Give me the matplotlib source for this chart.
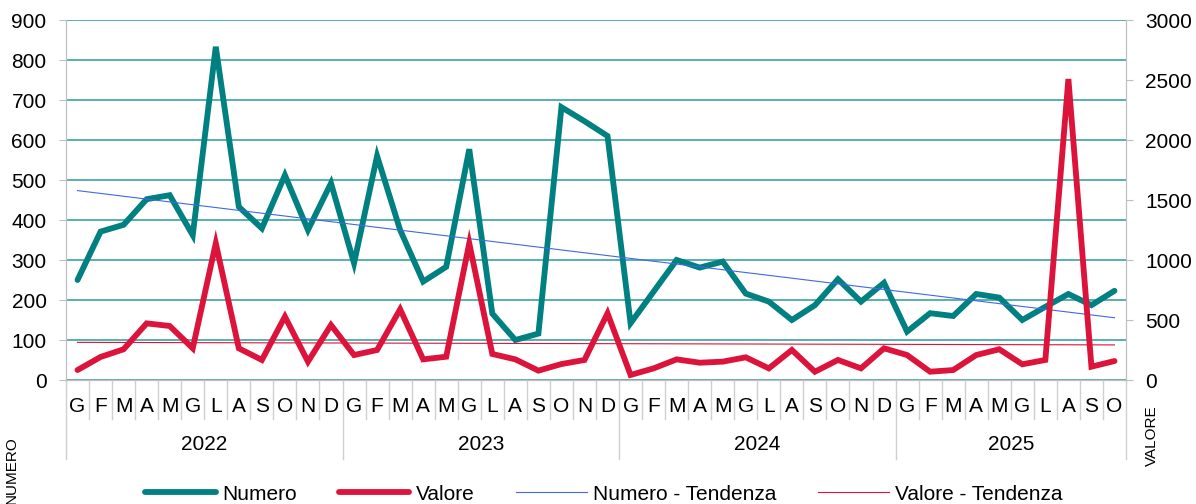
import matplotlib
matplotlib.use("Agg")
import matplotlib.pyplot as plt
import matplotlib.transforms as mtransforms
import numpy as np

plt.rcParams['font.family'] = ['Liberation Sans', 'DejaVu Sans']

# dati mensili 2022 - ott 2025
mesi = ['G', 'F', 'M', 'A', 'M', 'G', 'L', 'A', 'S', 'O', 'N', 'D']
anni = ['2022', '2023', '2024', '2025']
mesi_per_anno = [12, 12, 12, 10]

numero = [250, 371, 388, 452, 462, 362, 833, 433, 379, 512, 375, 492,
          292, 560, 375, 246, 283, 577, 166, 100, 116, 682, 647, 610,
          142, 221, 300, 281, 296, 216, 196, 150, 187, 252, 196, 243,
          121, 167, 160, 215, 206, 150, 183, 215, 187, 223]

valore = [83, 192, 256, 472, 450, 264, 1139, 264, 167, 528, 153, 458,
          208, 250, 589, 172, 194, 1139, 217, 172, 78, 133, 167, 556,
          42, 97, 172, 144, 153, 189, 97, 250, 69, 167, 97, 264,
          208, 69, 83, 208, 256, 131, 167, 2508, 111, 158]

etichette = []
for n in mesi_per_anno:
    etichette += mesi[:n]

x = np.arange(len(numero))

# linee di tendenza (regressione lineare)
p_num = np.polyfit(x, numero, 1)
p_val = np.polyfit(x, valore, 1)

teal = '#008080'
rosso = '#DC143C'
blu = '#4169E1'
grigio = '#BFBFBF'

fig = plt.figure(figsize=(11.96, 5.04), dpi=100)
L, B, W, H = 66/1196, 124/504, 1060/1196, 360/504
ax = fig.add_axes([L, B, W, H])
ax2 = ax.twinx()

ax.set_xlim(-0.5, len(x) - 0.5)
ax.set_ylim(0, 900)
ax2.set_ylim(0, 3000)
ax.set_yticks(range(0, 901, 100))
ax2.set_yticks(range(0, 3001, 500))

ax.set_axisbelow(True)
ax.grid(axis='y', color='#2E9A96', linewidth=1.1)

l1, = ax.plot(x, numero, color=teal, lw=4.2, solid_joinstyle='miter',
              solid_capstyle='round', zorder=3)
l3, = ax.plot(x, np.polyval(p_num, x), color=blu, lw=0.8, zorder=4)
l2, = ax2.plot(x, valore, color=rosso, lw=4.2, solid_joinstyle='miter',
               solid_capstyle='round', zorder=3)
l4, = ax2.plot(x, np.polyval(p_val, x), color=rosso, lw=0.8, zorder=4)

for a in (ax, ax2):
    for s in a.spines.values():
        s.set_color(grigio)
    a.spines['top'].set_visible(False)

ax.tick_params(axis='y', labelsize=15, length=5, color=grigio, pad=9)
ax2.tick_params(axis='y', labelsize=15, length=5, color=grigio, pad=9)
ax.set_xticks([])

# asse delle categorie: mesi e anni
tr = mtransforms.blended_transform_factory(ax.transData, ax.transAxes)
for i, lab in enumerate(etichette):
    ax.text(i, -26/360, lab, transform=tr, ha='center', va='center', fontsize=15)

confini = np.cumsum([0] + mesi_per_anno)
for i in range(len(x) + 1):
    lungo = (i in confini)
    y1 = -79/360 if lungo else -39/360
    ax.plot([i - 0.5, i - 0.5], [0, y1], transform=tr, color='#D0D0D0',
            lw=1, clip_on=False)

for k, anno in enumerate(anni):
    c = (confini[k] + confini[k + 1] - 1) / 2
    ax.text(c, -64/360, anno, transform=tr, ha='center', va='center', fontsize=15)

fig.text(12/1196, 1 - 470/504, 'NUMERO', rotation=90, ha='center', va='center', fontsize=11)
fig.text(1152/1196, 1 - 436/504, 'VALORE', rotation=90, ha='center', va='center', fontsize=11)

fig.legend([l1, l2, l3, l4], ['Numero', 'Valore', 'Numero - Tendenza', 'Valore - Tendenza'],
           loc='center', bbox_to_anchor=(604/1196, 1 - 494/504), ncol=4, frameon=False,
           fontsize=15, handlelength=3.4, handletextpad=0.3, columnspacing=2.0)

fig.savefig('out.png', dpi=100)
